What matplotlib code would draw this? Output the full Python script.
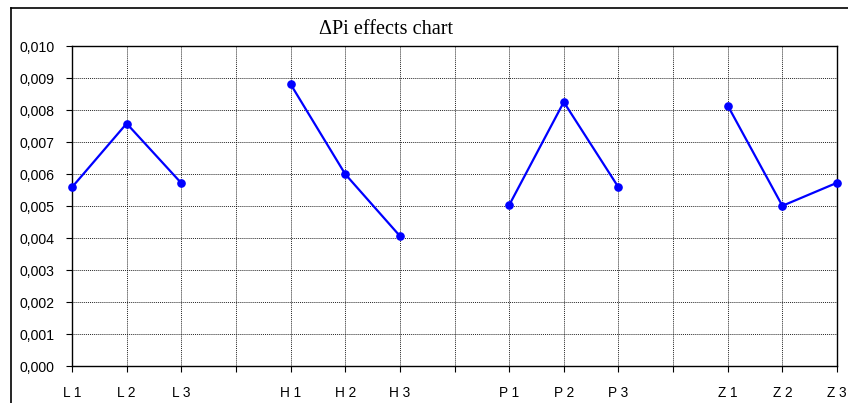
import numpy as np
import matplotlib
matplotlib.use("Agg")
import matplotlib.pyplot as plt
from matplotlib.lines import Line2D
from matplotlib.ticker import FuncFormatter, MultipleLocator

categories = ["L 1", "L 2", "L 3", "", "H 1", "H 2", "H 3", "",
              "P 1", "P 2", "P 3", "", "Z 1", "Z 2", "Z 3"]
values = [0.00559, 0.00758, 0.00572, None, 0.00881, 0.00600, 0.00407, None,
          0.00503, 0.00825, 0.00559, None, 0.00814, 0.00501, 0.00573]
title = "\u0394Pi effects chart"

fig = plt.figure(figsize=(8.48, 4.03), dpi=100)
ax = fig.add_axes([72 / 848, 1 - 366.3 / 403, 765 / 848, 320.3 / 403])

x = np.arange(len(categories))
y = np.array([np.nan if v is None else v for v in values], dtype=float)
ax.plot(x, y, color="#0000ff", linewidth=1.6, marker="o", markersize=5.2,
        markerfacecolor="#0000ff", markeredgecolor="#0000ff", zorder=3, clip_on=False)

ax.set_xlim(0, len(categories) - 1)
ax.set_ylim(0, 0.010)
ax.set_xticks(x)
ax.set_xticklabels(categories)
ax.yaxis.set_major_locator(MultipleLocator(0.001))
ax.yaxis.set_major_formatter(FuncFormatter(lambda v, p: f"{v:.3f}".replace(".", ",")))

ax.grid(True, which="major", color="black", linestyle=(0, (1, 1)), linewidth=0.7, alpha=0.85)
ax.set_axisbelow(True)
for s in ax.spines.values():
    s.set_color("black")
    s.set_linewidth(1.0)

ax.tick_params(axis="both", direction="out", length=4.5, width=0.8, colors="black")
ax.tick_params(axis="x", pad=10, labelsize=9.8)
ax.tick_params(axis="y", pad=8, labelsize=10.2)
for lab in ax.get_xticklabels() + ax.get_yticklabels():
    lab.set_fontfamily(["Liberation Sans", "DejaVu Sans"])

fig.text(386.5 / 848, 1 - 30 / 403, title, ha="center", va="center",
         fontsize=14.6, family=["Liberation Serif", "DejaVu Serif"])

# outer chart frame (left and top visible)
fig.add_artist(Line2D([11 / 848, 11 / 848], [0, 1 - 8 / 403], color="black", linewidth=1.2,
                      transform=fig.transFigure))
fig.add_artist(Line2D([11 / 848, 1], [1 - 8 / 403, 1 - 8 / 403], color="black", linewidth=1.2,
                      transform=fig.transFigure))

fig.savefig("out.png", dpi=100)
